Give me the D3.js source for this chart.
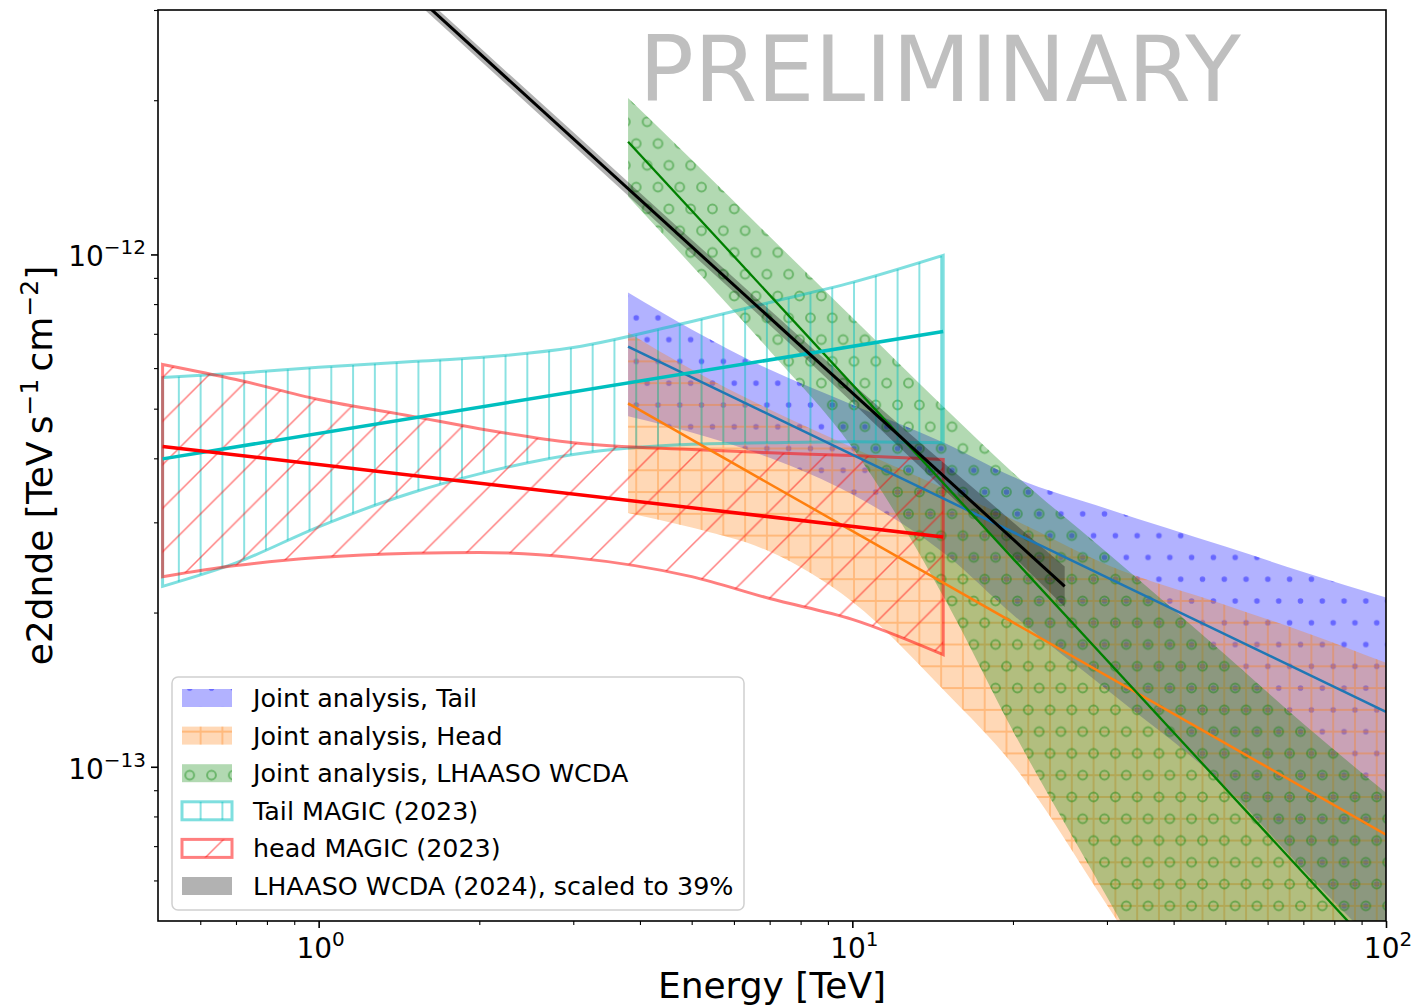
<!DOCTYPE html>
<html>
<head>
<meta charset="utf-8">
<script src="https://cdn.jsdelivr.net/npm/d3@7"></script>
<style>
  body { margin: 0; background: #fff; }
  svg { display: block; }
  text { font-family: "DejaVu Sans", sans-serif; }
</style>
</head>
<body>
<svg id="chart" width="1412" height="1008"></svg>
<script>
// ---- Spectral energy distributions, E^2 dN/dE in TeV s^-1 cm^-2, energies in TeV ----

// Joint analysis, Tail
const jointTailE  = [3.8, 5, 7, 10, 15, 20, 30, 50, 70, 100];
const jointTailHi = [8.43e-13, 7.14e-13, 5.96e-13, 5.09e-13, 4.27e-13, 3.68e-13, 3.19e-13, 2.69e-13, 2.40e-13, 2.14e-13];
const jointTailLo = [4.83e-13, 4.49e-13, 4.01e-13, 3.40e-13, 2.59e-13, 1.98e-13, 1.414e-13, 9.14e-14, 6.29e-14, 4.30e-14];
const jointTailLineE = [3.8, 100];
const jointTailLineF = [6.61e-13, 1.28e-13];

// Joint analysis, Head
const jointHeadE  = [3.8, 5, 7, 10, 15, 20, 30, 50, 70, 100];
const jointHeadHi = [7.04e-13, 5.96e-13, 4.98e-13, 4.20e-13, 3.48e-13, 3.04e-13, 2.48e-13, 2.07e-13, 1.835e-13, 1.596e-13];
const jointHeadLo = [3.13e-13, 2.93e-13, 2.63e-13, 2.10e-13, 1.395e-13, 1.009e-13, 5.37e-14, 2.34e-14, 1.30e-14, 6.95e-15];
const jointHeadLineE = [3.8, 100];
const jointHeadLineF = [5.12e-13, 7.37e-14];

// Joint analysis, LHAASO WCDA
const jointWcdaE  = [3.8, 5, 7, 10, 15, 20, 30, 50, 70, 100];
const jointWcdaHi = [2.02e-12, 1.53e-12, 1.084e-12, 7.53e-13, 4.98e-13, 3.75e-13, 2.62e-13, 1.655e-13, 1.213e-13, 8.9e-14];
const jointWcdaLo = [1.298e-12, 9.52e-13, 6.49e-13, 4.20e-13, 2.10e-13, 1.175e-13, 5.57e-14, 2.15e-14, 1.15e-14, 5.9e-15];
const jointWcdaLineE = [3.8, 100];
const jointWcdaLineF = [1.66e-12, 4.15e-14];

// MAGIC (2023), tail and head
const magicE      = [0.51, 0.7, 1, 1.5, 2, 3, 5, 7, 10, 14.8];
const tailMagicHi = [5.75e-13, 5.86e-13, 6.02e-13, 6.18e-13, 6.29e-13, 6.58e-13, 7.40e-13, 8.06e-13, 8.82e-13, 9.96e-13];
const tailMagicLo = [2.25e-13, 2.50e-13, 2.94e-13, 3.43e-13, 3.73e-13, 4.07e-13, 4.26e-13, 4.29e-13, 4.31e-13, 4.29e-13];
const tailMagicLineE = [0.51, 14.8];
const tailMagicLineF = [3.99e-13, 7.07e-13];
const headMagicHi = [6.10e-13, 5.70e-13, 5.21e-13, 4.83e-13, 4.57e-13, 4.29e-13, 4.16e-13, 4.10e-13, 4.05e-13, 3.98e-13];
const headMagicLo = [2.35e-13, 2.47e-13, 2.56e-13, 2.61e-13, 2.62e-13, 2.56e-13, 2.35e-13, 2.13e-13, 1.94e-13, 1.655e-13];
const headMagicLineE = [0.51, 14.8];
const headMagicLineF = [4.22e-13, 2.81e-13];

// LHAASO WCDA (2024), scaled to 39%
const wcdaE  = [1, 2, 4, 8, 12, 18, 25];
const wcdaHi = [4.90e-12, 2.54e-12, 1.32e-12, 6.88e-13, 4.74e-13, 3.30e-13, 2.46e-13];
const wcdaLo = [4.64e-12, 2.40e-12, 1.24e-12, 6.40e-13, 4.29e-13, 2.87e-13, 2.05e-13];
const wcdaLineE = [1, 25];
const wcdaLineF = [4.77e-12, 2.25e-13];

// Axes
const xDomain = [0.5, 100];
const yDomain = [5e-14, 3e-12];
const xMajor = [1, 10, 100];
const xMajorExp = ["0", "1", "2"];
const xMinor = [0.6, 0.7, 0.8, 0.9, 2, 3, 4, 5, 6, 7, 8, 9, 20, 30, 40, 50, 60, 70, 80, 90];
const yMajor = [1e-13, 1e-12];
const yMajorExp = ["\u221213", "\u221212"];
const yMinor = [6e-14, 7e-14, 8e-14, 9e-14, 2e-13, 3e-13, 4e-13, 5e-13, 6e-13, 7e-13, 8e-13, 9e-13, 2e-12, 3e-12];

const legendLabels = [
  "Joint analysis, Tail",
  "Joint analysis, Head",
  "Joint analysis, LHAASO WCDA",
  "Tail MAGIC (2023)",
  "head MAGIC (2023)",
  "LHAASO WCDA (2024), scaled to 39%"
];

// ---- layout ----
const L = 158, R = 1386, T = 10, B = 921;
const svg = d3.select("#chart");
const x = d3.scaleLog().domain(xDomain).range([L, R]);
const y = d3.scaleLog().domain(yDomain).range([B, T]);

// ---- hatch patterns (shared origin, 6 hatch lines per unit) ----
const W = 21.78, ox = 4.6, oy = 12.9;
const defs = svg.append("defs");
defs.append("clipPath").attr("id", "plotClip")
  .append("rect").attr("x", L).attr("y", T).attr("width", R - L).attr("height", B - T);

function hexPattern(id, r, filled, color, opacity) {
  const p = defs.append("pattern").attr("id", id).attr("patternUnits", "userSpaceOnUse")
    .attr("x", ox - 0.25 * W).attr("y", oy - 0.5 * W).attr("width", W).attr("height", 2 * W);
  [[0.25 * W, 0.5 * W], [0.75 * W, 1.5 * W]].forEach(([cx, cy]) => {
    const c = p.append("circle").attr("cx", cx).attr("cy", cy).attr("r", r);
    if (filled) c.attr("fill", color).attr("fill-opacity", opacity);
    else c.attr("fill", "none").attr("stroke", color).attr("stroke-opacity", opacity).attr("stroke-width", 2);
  });
}
hexPattern("dotsBlue", 2.8, true, "#0000ff", 0.42);
hexPattern("ringsGreen", 4.4, false, "#008000", 0.4);

defs.append("pattern").attr("id", "gridOrange").attr("patternUnits", "userSpaceOnUse")
  .attr("x", ox - W / 2).attr("y", oy - W / 2).attr("width", W).attr("height", W)
  .append("path").attr("d", `M${W / 2},0V${W}M0,${W / 2}H${W}`)
  .attr("fill", "none").attr("stroke", "#ff7f0e").attr("stroke-opacity", 0.35).attr("stroke-width", 1.8);

defs.append("pattern").attr("id", "vlinesCyan").attr("patternUnits", "userSpaceOnUse")
  .attr("x", ox - W / 2).attr("y", 0).attr("width", W).attr("height", W)
  .append("path").attr("d", `M${W / 2},0V${W}`)
  .attr("fill", "none").attr("stroke", "#00bfbf").attr("stroke-opacity", 0.5).attr("stroke-width", 1.8);

defs.append("pattern").attr("id", "diagRed").attr("patternUnits", "userSpaceOnUse")
  .attr("x", 0).attr("y", 17.5).attr("width", 2 * W).attr("height", 2 * W)
  .append("path").attr("d", `M-2,${2 * W + 2}L${2 * W + 2},-2M-2,2L2,-2M${2 * W - 2},${2 * W + 2}L${2 * W + 2},${2 * W - 2}`)
  .attr("fill", "none").attr("stroke", "#ff0000").attr("stroke-opacity", 0.5).attr("stroke-width", 1.5);

// ---- generators ----
const zipBand = (E, lo, hi) => E.map((e, i) => ({ e, lo: lo[i], hi: hi[i] }));
const zipLine = (E, F) => E.map((e, i) => ({ e, f: F[i] }));
const area = d3.area().x(d => x(d.e)).y0(d => y(d.lo)).y1(d => y(d.hi)).curve(d3.curveMonotoneX);
const line = d3.line().x(d => x(d.e)).y(d => y(d.f));

const plot = svg.append("g").attr("clip-path", "url(#plotClip)");

function filledBand(E, lo, hi, fill, pattern) {
  const d = area(zipBand(E, lo, hi));
  plot.append("path").attr("d", d).attr("fill", fill).attr("fill-opacity", 0.3);
  plot.append("path").attr("d", d).attr("fill", `url(#${pattern})`);
}
function outlineBand(E, lo, hi, stroke, pattern) {
  plot.append("path").attr("d", area(zipBand(E, lo, hi)) + "Z")
    .attr("fill", `url(#${pattern})`).attr("stroke", stroke).attr("stroke-opacity", 0.5)
    .attr("stroke-width", 3).attr("stroke-linejoin", "miter");
}
function powerLine(E, F, color, width) {
  plot.append("path").attr("d", line(zipLine(E, F)))
    .attr("fill", "none").attr("stroke", color).attr("stroke-width", width);
}

// Joint analysis uncertainty bands
filledBand(jointTailE, jointTailLo, jointTailHi, "#0000ff", "dotsBlue");
filledBand(jointHeadE, jointHeadLo, jointHeadHi, "#ff7f0e", "gridOrange");
filledBand(jointWcdaE, jointWcdaLo, jointWcdaHi, "#008000", "ringsGreen");

// MAGIC butterflies
outlineBand(magicE, tailMagicLo, tailMagicHi, "#00bfbf", "vlinesCyan");
outlineBand(magicE, headMagicLo, headMagicHi, "#ff0000", "diagRed");

// LHAASO WCDA band
plot.append("path").attr("d", area(zipBand(wcdaE, wcdaLo, wcdaHi)))
  .attr("fill", "#000").attr("fill-opacity", 0.3);

// best-fit power laws
powerLine(jointTailLineE, jointTailLineF, "#1f77b4", 2.5);
powerLine(jointHeadLineE, jointHeadLineF, "#ff7f0e", 2.5);
powerLine(jointWcdaLineE, jointWcdaLineF, "#008000", 2.3);
powerLine(tailMagicLineE, tailMagicLineF, "#00bfbf", 3.5);
powerLine(headMagicLineE, headMagicLineF, "#ff0000", 3.5);
powerLine(wcdaLineE, wcdaLineF, "#000", 3);

// ---- watermark ----
svg.append("text").attr("x", 639).attr("y", 101).attr("font-size", 91)
  .attr("fill", "#808080").attr("fill-opacity", 0.5).text("PRELIMINARY");

// ---- axes ----
const axes = svg.append("g");
function tickAxis(axisFn, pos, values, size, width, transform) {
  const g = axes.append("g").attr("transform", transform)
    .call(axisFn(pos).tickValues(values).tickSize(size).tickSizeOuter(0).tickFormat(""));
  g.select(".domain").remove();
  g.selectAll(".tick line").attr("stroke", "#000").attr("stroke-width", width);
  return g;
}
tickAxis(d3.axisBottom, x, xMajor, 7, 1.6, `translate(0,${B})`);
tickAxis(d3.axisBottom, x, xMinor, 4, 1.1, `translate(0,${B})`);
tickAxis(d3.axisLeft, y, yMajor, 7, 1.6, `translate(${L},0)`);
tickAxis(d3.axisLeft, y, yMinor, 4, 1.1, `translate(${L},0)`);

axes.append("rect").attr("x", L).attr("y", T).attr("width", R - L).attr("height", B - T)
  .attr("fill", "none").attr("stroke", "#000").attr("stroke-width", 1.6);

// tick labels as 10^n
xMajor.forEach((v, i) => {
  const t = axes.append("text").attr("x", x(v) + 2).attr("y", 958)
    .attr("text-anchor", "middle").attr("font-size", 28);
  t.append("tspan").text("10");
  t.append("tspan").attr("dy", -12).attr("font-size", 20).text(xMajorExp[i]);
});
yMajor.forEach((v, i) => {
  const t = axes.append("text").attr("x", 146).attr("y", y(v) + 12)
    .attr("text-anchor", "end").attr("font-size", 28);
  t.append("tspan").text("10");
  t.append("tspan").attr("dy", -12).attr("font-size", 20).text(yMajorExp[i]);
});

// axis titles
axes.append("text").attr("x", (L + R) / 2).attr("y", 998).attr("text-anchor", "middle")
  .attr("font-size", 36).text("Energy [TeV]");
const yl = axes.append("text").attr("transform", `translate(52,${(T + B) / 2}) rotate(-90)`)
  .attr("text-anchor", "middle").attr("font-size", 36);
yl.append("tspan").text("e2dnde [TeV\u2009s");
yl.append("tspan").attr("dy", -14).attr("font-size", 25).text("\u22121");
yl.append("tspan").attr("dy", 14).text("\u2009cm");
yl.append("tspan").attr("dy", -14).attr("font-size", 25).text("\u22122");
yl.append("tspan").attr("dy", 14).text("]");

// ---- legend ----
const lg = svg.append("g");
lg.append("rect").attr("x", 172).attr("y", 677).attr("width", 572).attr("height", 233).attr("rx", 6)
  .attr("fill", "#fff").attr("fill-opacity", 0.8).attr("stroke", "#d0d0d0").attr("stroke-width", 1.5);
const swatches = [
  { fill: "#0000ff", pattern: "dotsBlue" },
  { fill: "#ff7f0e", pattern: "gridOrange" },
  { fill: "#008000", pattern: "ringsGreen" },
  { stroke: "#00bfbf", pattern: "vlinesCyan" },
  { stroke: "#ff0000", pattern: "diagRed" },
  { fill: "#000" }
];
legendLabels.forEach((label, i) => {
  const cy = 698 + i * 37.6;
  const s = swatches[i];
  if (s.fill) {
    lg.append("rect").attr("x", 182).attr("y", cy - 9).attr("width", 50).attr("height", 18)
      .attr("fill", s.fill).attr("fill-opacity", 0.3);
    if (s.pattern) lg.append("rect").attr("x", 182).attr("y", cy - 9).attr("width", 50).attr("height", 18)
      .attr("fill", `url(#${s.pattern})`);
  } else {
    lg.append("rect").attr("x", 182).attr("y", cy - 9).attr("width", 50).attr("height", 18)
      .attr("fill", `url(#${s.pattern})`).attr("stroke", s.stroke).attr("stroke-opacity", 0.5).attr("stroke-width", 3);
  }
  lg.append("text").attr("x", 253).attr("y", cy + 9).attr("font-size", 25.4).text(label);
});
</script>
</body>
</html>
